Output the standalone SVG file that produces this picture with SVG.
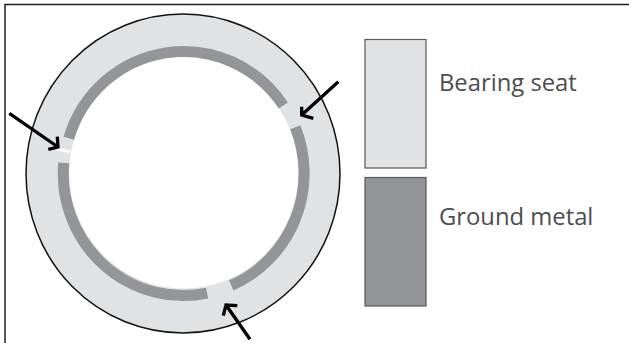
<svg xmlns="http://www.w3.org/2000/svg" width="629" height="343" viewBox="0 0 629 343">
<defs><style>
.band{fill:none;stroke:#939598;stroke-width:11}
.arrow{fill:none;stroke:#000;stroke-width:3.3}
.label{font-family:"Open Sans","Noto Sans",sans-serif;font-size:23.8px;fill:#4d4d4f}
.key{stroke:#58595b;stroke-width:1.2}
</style></defs>
<rect x="0" y="0" width="629" height="343" fill="#fff"/>
<path d="M5 343V4.500H629" fill="none" stroke="#231f20" stroke-width="1.5"/>
<g id="ring">
<ellipse cx="183" cy="173.500" rx="157" ry="159.500" fill="#e1e2e4" stroke="#111" stroke-width="1.5"/>
<ellipse cx="183.700" cy="172.500" rx="114.500" ry="116" fill="#fff"/>
<path class="band" d="M68.800 138.200A120 122 0 0 1 283.300 105.500"/>
<path class="band" d="M295.300 127.300A120 122 0 0 1 231.300 285.400"/>
<path class="band" d="M207.100 293.100A120 122 0 0 1 63.700 162.900"/>
<path d="M57 149L70 152" stroke="#fff" stroke-width="3" fill="none"/>
</g>
<g id="connectors">
<path class="arrow" d="M9.300 113.300L58 147M48.300 149.300L58 147L57.300 136.700"/>
<path class="arrow" d="M338.300 81.700L301.700 115M301.700 106.700L301.700 115L313.300 118.300"/>
<path class="arrow" d="M250 339.300L226 305M223.300 315.700L226 305L237.300 305.700"/>
</g>
<g id="key-seat"><rect class="key" x="365" y="39.500" width="61" height="128.500" fill="#e1e2e4"/><text class="label" x="439" y="90.500">Bearing seat</text></g>
<g id="key-metal"><rect class="key" x="365" y="177.500" width="61" height="128.500" fill="#939598"/><text class="label" x="439" y="225">Ground metal</text></g>
</svg>
